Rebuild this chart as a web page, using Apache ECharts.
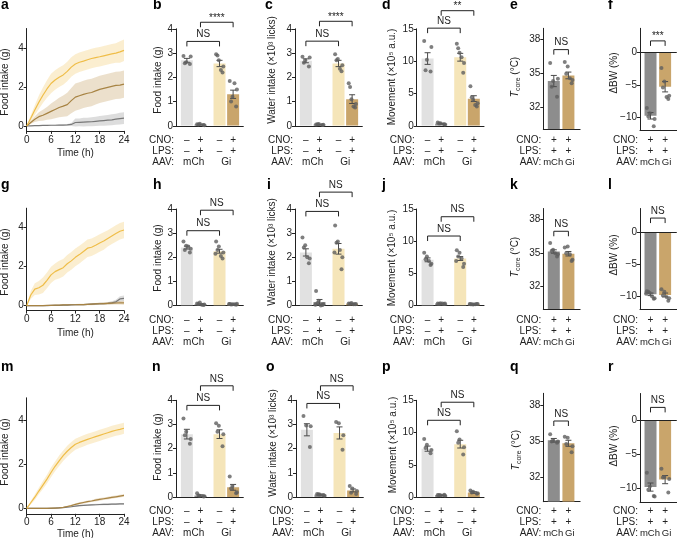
<!DOCTYPE html>
<html>
<head>
<meta charset="utf-8">
<script src="https://cdn.jsdelivr.net/npm/echarts@6/dist/echarts.min.js"></script>
<style>
  html, body { margin: 0; padding: 0; background: #fff; }
  #chart { width: 677px; height: 538px; }
</style>
</head>
<body>
<div id="chart"></div>
<script>
// ---------- data ----------
const hours = [0,1,2,3,4,5,6,7,8,9,10,11,12,13,14,15,16,17,18,19,20,21,22,23,24];
const timeTicks = [0, 6, 12, 18, 24];

// a: cumulative food intake (g), mean and s.e.m. per hour
const aYellow = [0,0.4,0.82,1.22,1.58,1.9,2.18,2.36,2.5,2.62,2.8,3.02,3.18,3.27,3.33,3.4,3.46,3.51,3.55,3.6,3.65,3.7,3.74,3.8,3.88];
const aYellowSem = [0,0.15,0.25,0.35,0.4,0.45,0.5,0.5,0.5,0.5,0.5,0.5,0.5,0.5,0.5,0.5,0.5,0.5,0.5,0.5,0.5,0.5,0.5,0.55,0.55];
const aBrown = [0,0.18,0.35,0.48,0.55,0.65,0.75,0.85,0.95,1.02,1.1,1.3,1.48,1.55,1.62,1.68,1.72,1.8,1.88,1.93,1.98,2.03,2.08,2.1,2.15];
const aBrownSem = [0,0.08,0.15,0.22,0.28,0.33,0.4,0.45,0.5,0.55,0.6,0.65,0.7,0.7,0.7,0.7,0.7,0.7,0.7,0.7,0.7,0.7,0.7,0.7,0.7];
const aGrey = [0,0.01,0.02,0.02,0.03,0.03,0.04,0.04,0.05,0.05,0.06,0.08,0.18,0.19,0.2,0.21,0.22,0.24,0.26,0.28,0.3,0.32,0.35,0.38,0.4];
const aGreySem = [0,0.01,0.01,0.02,0.02,0.02,0.03,0.03,0.03,0.04,0.04,0.08,0.2,0.2,0.22,0.22,0.23,0.24,0.25,0.26,0.27,0.28,0.28,0.3,0.3];

// g
const gYellow = [0,0.55,0.85,0.92,1.05,1.3,1.58,1.75,1.85,1.95,2.15,2.3,2.48,2.62,2.78,2.95,3.0,3.1,3.22,3.32,3.45,3.58,3.7,3.82,3.88];
const gYellowSem = [0,0.2,0.3,0.35,0.4,0.4,0.42,0.42,0.45,0.45,0.45,0.45,0.45,0.45,0.45,0.45,0.45,0.45,0.45,0.45,0.42,0.42,0.42,0.42,0.42];
const gBrown = [0,0,0.01,0.01,0.01,0.02,0.02,0.03,0.03,0.04,0.04,0.05,0.05,0.06,0.06,0.07,0.08,0.09,0.1,0.11,0.12,0.13,0.14,0.15,0.15];
const gBrownSem = [0,0,0.01,0.01,0.01,0.01,0.02,0.02,0.02,0.03,0.03,0.03,0.04,0.04,0.04,0.05,0.05,0.05,0.06,0.06,0.07,0.07,0.08,0.09,0.1];
const gGrey = [0,0,0,0.01,0.01,0.01,0.02,0.02,0.02,0.03,0.03,0.04,0.05,0.06,0.06,0.07,0.08,0.09,0.1,0.11,0.12,0.15,0.2,0.35,0.38];
const gGreySem = [0,0,0,0.01,0.01,0.01,0.01,0.01,0.01,0.02,0.02,0.02,0.02,0.03,0.03,0.03,0.04,0.04,0.05,0.05,0.06,0.08,0.1,0.14,0.15];

// m
const mYellow = [0,0.25,0.5,0.78,1.05,1.32,1.62,1.9,2.15,2.38,2.58,2.75,2.9,2.98,3.05,3.12,3.18,3.24,3.3,3.36,3.42,3.48,3.53,3.57,3.62];
const mYellowSem = [0,0.08,0.12,0.15,0.18,0.2,0.22,0.22,0.24,0.24,0.25,0.25,0.25,0.25,0.25,0.25,0.25,0.25,0.25,0.25,0.25,0.25,0.25,0.25,0.25];
const mBrown = [0,0,0,0,0,0,0.01,0.01,0.02,0.04,0.08,0.12,0.18,0.22,0.26,0.3,0.33,0.37,0.4,0.43,0.46,0.49,0.52,0.55,0.58];
const mBrownSem = [0,0,0,0,0,0,0,0.01,0.01,0.02,0.03,0.04,0.04,0.05,0.05,0.05,0.05,0.06,0.06,0.06,0.06,0.06,0.06,0.06,0.06];
const mGrey = [0,0,0,0,0,0,0,0.01,0.02,0.03,0.05,0.07,0.1,0.12,0.13,0.14,0.15,0.16,0.17,0.18,0.18,0.19,0.19,0.2,0.2];
const mGreySem = [0,0,0,0,0,0,0,0,0.01,0.01,0.02,0.02,0.03,0.03,0.03,0.03,0.04,0.04,0.04,0.04,0.04,0.04,0.04,0.04,0.04];

// condition labels
const cno4 = ['–', '+', '–', '+'];
const lps4 = ['–', '+', '–', '+'];
const cno2 = ['+', '+'];
const lps2 = ['+', '+'];
const aav = ['mCh', 'Gi'];

// bar panels: mean, s.e.m., individual animals, brackets [fromBar, toBar, height, label]
const bMean = [2.7, 0.05, 2.57, 1.3];
const bSem = [0.08, 0.02, 0.13, 0.17];
const bDots = [[2.88, 2.55, 2.62, 2.86, 2.58], [0.06, 0.03, 0.08, 0.02, 0.05], [2.95, 2.2, 2.7, 2.45, 2.9, 2.3], [1.85, 0.8, 1.2, 1.5, 1.0, 1.75]];
const bSig = [[0, 2, 3.48, 'NS'], [1, 3, 4.27, '****']];

const cMean = [2.68, 0.05, 2.57, 1.1];
const cSem = [0.08, 0.02, 0.13, 0.18];
const cDots = [[2.85, 2.45, 2.7, 2.82, 2.6], [0.05, 0.03, 0.07, 0.04, 0.06], [2.95, 2.25, 2.75, 2.5, 2.7, 2.35], [1.75, 0.75, 1.1, 0.9, 1.6, 0.8]];
const cSig = [[0, 2, 3.49, 'NS'], [1, 3, 4.31, '****']];

const dMean = [10.4, 0.35, 10.6, 4.2];
const dSem = [0.9, 0.06, 0.6, 0.45];
const dDots = [[13.1, 8.4, 10.2, 12.2, 8.6], [0.5, 0.25, 0.4, 0.2, 0.35], [12.7, 8.2, 11.3, 9.7, 12.0, 10.6], [6.1, 3.0, 4.0, 3.5, 4.4, 3.2]];
const dSig = [[0, 2, 15.1, 'NS'], [1, 3, 17.8, '**']];

const eMean = [34.3, 34.8];
const eSem = [0.5, 0.3];
const eDots = [[35.9, 32.9, 34.3, 34.5, 33.8], [36.0, 34.1, 35.6, 34.4, 34.95, 34.55]];
const eSig = [[0, 1, 37.1, 'NS']];

const fMean = [-9.8, -5.3];
const fSem = [0.5, 0.8];
const fDots = [[-8.6, -11.4, -9.4, -10.3, -9.9], [-2.4, -7.2, -4.5, -6.7, -5.4, -6.9]];
const fSig = [[0, 1, 1.8, '***']];

const hMean = [2.4, 0.05, 2.25, 0.05];
const hSem = [0.06, 0.02, 0.08, 0.01];
const hDots = [[2.65, 2.2, 2.48, 2.35, 2.3, 2.45], [0.08, 0.02, 0.12, 0.04, 0.06, 0.03], [2.65, 1.95, 2.45, 2.2, 2.3, 2.05, 2.15], [0.06, 0.03, 0.05, 0.07, 0.04, 0.05, 0.06]];
const hSig = [[0, 2, 3.1, 'NS'], [1, 3, 3.95, 'NS']];

const iMean = [2.2, 0.15, 2.35, 0.07];
const iSem = [0.15, 0.1, 0.22, 0.02];
const iDots = [[2.82, 1.75, 2.5, 1.95, 2.4, 2.0], [0.6, 0.02, 0.2, 0.05, 0.1, 0.0, 0.03], [3.32, 1.5, 2.65, 2.0, 2.6, 2.3, 2.2], [0.08, 0.05, 0.1, 0.06, 0.07, 0.05]];
const iSig = [[0, 2, 3.9, 'NS'], [1, 3, 4.7, 'NS']];

const jMean = [7.1, 0.3, 7.3, 0.2];
const jSem = [0.3, 0.03, 0.3, 0.03];
const jDots = [[8.2, 6.3, 7.6, 6.5, 7.2, 6.9], [0.3, 0.25, 0.35, 0.3, 0.28, 0.32], [8.6, 6.0, 8.2, 6.5, 7.6, 7.3, 6.9], [0.2, 0.25, 0.15, 0.22, 0.18, 0.2, 0.24]];
const jSig = [[0, 2, 10.8, 'NS'], [1, 3, 13.8, 'NS']];

const kMean = [35.15, 34.95];
const kSem = [0.15, 0.2];
const kDots = [[35.9, 34.7, 35.3, 34.9, 35.2, 35.0], [35.5, 34.3, 35.6, 34.4, 35.0, 34.9]];
const kSig = [[0, 1, 36.96, 'NS']];

const lMean = [-9.7, -9.8];
const lSem = [0.2, 0.3];
const lDots = [[-9.2, -10.4, -9.5, -10.3, -9.3, -10.0, -9.6], [-8.9, -10.7, -9.3, -10.3, -9.9, -10.1]];
const lSig = [[0, 1, 2.25, 'NS']];

const nMean = [2.6, 0.06, 2.6, 0.4];
const nSem = [0.2, 0.03, 0.18, 0.12];
const nDots = [[3.25, 2.2, 2.7, 2.4, 2.55], [0.15, 0.02, 0.05, 0.03, 0.06], [3.05, 2.1, 2.95, 2.6, 2.7], [0.85, 0.15, 0.45, 0.2, 0.35]];
const nSig = [[0, 2, 3.79, 'NS'], [1, 3, 4.6, 'NS']];

const oMean = [2.78, 0.1, 2.65, 0.27];
const oSem = [0.25, 0.02, 0.25, 0.06];
const oDots = [[3.35, 2.07, 2.96, 2.93], [0.12, 0.08, 0.1, 0.05, 0.11], [3.1, 1.95, 3.05, 2.55], [0.45, 0.12, 0.35, 0.25, 0.18]];
const oSig = [[0, 2, 3.87, 'NS'], [1, 3, 4.6, 'NS']];

const pMean = [7.5, 0.3, 8.2, 0.7];
const pSem = [0.4, 0.03, 0.6, 0.12];
const pDots = [[9.0, 6.8, 8.1, 7.3, 7.6], [0.3, 0.35, 0.28, 0.25, 0.32], [10.2, 6.6, 8.9, 7.7, 8.4], [1.0, 0.5, 0.8, 0.6, 0.7]];
const pSig = [[0, 2, 11.9, 'NS'], [1, 3, 14.7, 'NS']];

const qMean = [35.1, 34.85];
const qSem = [0.15, 0.25];
const qDots = [[35.6, 34.9, 35.1, 35.0, 35.0], [35.4, 34.1, 35.3, 34.6, 34.8]];
const qSig = [[0, 1, 36.7, 'NS']];

const rMean = [-9.8, -8.7];
const rSem = [0.6, 0.6];
const rDots = [[-7.7, -11.1, -9.7, -11.2, -10.2], [-7.1, -10.6, -8.3, -8.6, -8.4]];
const rSig = [[0, 1, 1.95, 'NS']];

// ---------- styling / layout ----------
const FONT = '"Liberation Sans", Arial, Helvetica, sans-serif';
const INK = '#222222';
const BAR_COLORS = ['#e1e1e1', '#8d8d8d', '#f5e5b9', '#c9a56b'];
const BAR2_COLORS = ['#8d8d8d', '#c9a56b'];
const DOT = '#5f5f5f';
const ERR = '#4a4a4a';
const LINE_YELLOW = '#efbd48', LINE_BROWN = '#a78343', LINE_GREY = '#787878';
const BAND_YELLOW = 'rgba(242,200,100,0.30)', BAND_BROWN = 'rgba(196,160,96,0.32)', BAND_GREY = 'rgba(150,150,150,0.32)';
const POS4 = [0, 1, 2.4, 3.4], POS2 = [0, 1];
const U4 = 13.6, U2 = 14.6;
const BAR_W = 12;
const JIT = [-0.25, 0.22, -0.05, 0.28, -0.15, 0.1, -0.3];
const ROWS = [[140, 151, 162], [320, 331, 342], [511.5, 522.5, 533.5]];
const TCORE = '{t|T}{s|core} (°C)';

const option = {
  animation: false,
  backgroundColor: '#ffffff',
  textStyle: { fontFamily: FONT },
  grid: [], xAxis: [], yAxis: [], series: [],
  graphic: { elements: [] }
};

function txt(x, y, text, extra) {
  option.graphic.elements.push(Object.assign({
    type: 'text', x: x, y: y, silent: true,
    style: Object.assign({ text: text, fill: INK, fontSize: 10, fontFamily: FONT, align: 'left', verticalAlign: 'middle' }, (extra && extra.style) || {})
  }, extra && extra.rotation ? { rotation: extra.rotation } : {}));
}

function yName(x, y, text) {
  txt(x, y, text, {
    rotation: Math.PI / 2,
    style: {
      align: 'center',
      rich: {
        t: { fontStyle: 'italic', fontSize: 10, fontFamily: FONT, fill: INK },
        s: { fontSize: 7, fontFamily: FONT, fill: INK, padding: [6, 0, 0, 0] }
      }
    }
  });
}

function yAxis(gi, min, max, ticks) {
  option.yAxis.push({
    gridIndex: gi, type: 'value', min: min, max: max,
    axisLine: { show: true, onZero: false, lineStyle: { color: INK, width: 1 } },
    axisTick: { show: true, length: 3, customValues: ticks, lineStyle: { color: INK } },
    axisLabel: { customValues: ticks, margin: 3, fontSize: 10, color: INK, fontFamily: FONT,
      formatter: v => String(v).replace('-', '−') },
    splitLine: { show: false }
  });
  return option.yAxis.length - 1;
}

function linePanel(p) {
  const gi = option.grid.length;
  option.grid.push({ left: p.left, top: p.top, width: p.right - p.left, height: p.bottom - p.top, outerBoundsMode: 'none', containLabel: false });
  const xi = option.xAxis.length;
  option.xAxis.push({
    gridIndex: gi, type: 'value', min: 0, max: 24,
    axisLine: { onZero: false, lineStyle: { color: INK, width: 1 } },
    axisTick: { length: 3, customValues: timeTicks, lineStyle: { color: INK } },
    axisLabel: { customValues: timeTicks, margin: p.labelMargin, fontSize: 10, color: INK, fontFamily: FONT },
    splitLine: { show: false },
    name: 'Time (h)', nameLocation: 'middle', nameGap: p.nameGap,
    nameTextStyle: { fontSize: 10, color: INK, fontFamily: FONT }
  });
  const yi = yAxis(gi, -0.25, 5, [0, 2, 4]);
  // s.e.m. bands as one polygon per group
  p.groups.forEach(function (g) {
    const mean = g[0], sem = g[1];
    option.series.push({
      type: 'custom', xAxisIndex: xi, yAxisIndex: yi, silent: true, clip: true, z: 1,
      data: hours.map((h, i) => [h, mean[i] - sem[i], mean[i] + sem[i]]),
      renderItem: function (params, api) {
        if (params.dataIndex !== 0) return null;
        const up = hours.map((h, i) => api.coord([h, mean[i] + sem[i]]));
        const lo = hours.map((h, i) => api.coord([h, mean[i] - sem[i]])).reverse();
        return { type: 'polygon', shape: { points: up.concat(lo) }, style: { fill: g[3] } };
      }
    });
  });
  p.groups.forEach(function (g) {
    option.series.push({
      type: 'line', xAxisIndex: xi, yAxisIndex: yi, symbol: 'none', silent: true, z: 3,
      lineStyle: { color: g[2], width: 1.2 },
      data: hours.map((h, i) => [h, g[0][i]])
    });
  });
  yName(p.nameAt[0], p.nameAt[1], 'Food intake (g)');
}

function barPanel(p) {
  const four = p.mean.length === 4;
  const pos = four ? POS4 : POS2;
  const unit = four ? U4 : U2;
  const xmin = four ? -0.8 : -0.72;
  const xmax = four ? 4.15 : 1.8;
  const colors = four ? BAR_COLORS : BAR2_COLORS;
  const cno = four ? cno4 : cno2;
  const lps = four ? lps4 : lps2;
  const aavPos = four ? [0.5, 2.9] : [-0.04, 1.1];
  const rows = ROWS[p.row];
  const gi = option.grid.length;
  option.grid.push({ left: p.axisX, top: p.top, width: (xmax - xmin) * unit, height: p.bottom - p.top, outerBoundsMode: 'none', containLabel: false });

  const xi = option.xAxis.length;
  option.xAxis.push({
    gridIndex: gi, type: 'value', min: xmin, max: xmax, position: 'bottom',
    axisLine: { show: true, onZero: false, lineStyle: { color: INK, width: 1 } },
    axisTick: { show: false }, splitLine: { show: false },
    axisLabel: { customValues: pos, hideOverlap: false, margin: rows[0] - p.bottom - 5.5, fontSize: 10, lineHeight: 11, color: INK, fontFamily: FONT,
      formatter: v => { const i = pos.indexOf(v); return cno[i] + '\n' + lps[i]; } }
  });
  const yi = yAxis(gi, p.ymin, p.ymax, p.ticks);

  // bars
  option.series.push({
    type: 'custom', xAxisIndex: xi, yAxisIndex: yi, silent: true, clip: true, z: 2,
    data: p.mean.map((m, i) => [pos[i], m]),
    renderItem: function (params, api) {
      const cs = params.coordSys;
      const x = api.value(0), v = api.value(1);
      const base = api.coord([x, 0])[1];
      const y0 = Math.max(cs.y, Math.min(cs.y + cs.height, base));
      const top = api.coord([x, v]);
      return { type: 'rect',
        shape: { x: top[0] - BAR_W / 2, y: Math.min(y0, top[1]), width: BAR_W, height: Math.abs(top[1] - y0) },
        style: { fill: colors[params.dataIndex] } };
    },
    markLine: p.ymin < 0 ? { silent: true, symbol: 'none', label: { show: false },
      lineStyle: { color: INK, width: 1, type: 'solid' }, data: [{ yAxis: 0 }] } : undefined
  });
  // error bars
  option.series.push({
    type: 'custom', xAxisIndex: xi, yAxisIndex: yi, silent: true, z: 4,
    data: p.mean.map((m, i) => [pos[i], m, p.sem[i]]),
    renderItem: function (params, api) {
      const x = api.value(0), m = api.value(1), s = api.value(2);
      const lo = api.coord([x, m - s]), hi = api.coord([x, m + s]);
      const st = { stroke: ERR, lineWidth: 1 };
      return { type: 'group', children: [
        { type: 'line', shape: { x1: lo[0], y1: lo[1], x2: hi[0], y2: hi[1] }, style: st },
        { type: 'line', shape: { x1: hi[0] - 3, y1: hi[1], x2: hi[0] + 3, y2: hi[1] }, style: st },
        { type: 'line', shape: { x1: lo[0] - 3, y1: lo[1], x2: lo[0] + 3, y2: lo[1] }, style: st }
      ] };
    }
  });
  // individual animals
  const pts = [];
  p.dots.forEach((arr, i) => arr.forEach((v, j) => pts.push([pos[i] + JIT[j % JIT.length], v])));
  option.series.push({
    type: 'scatter', xAxisIndex: xi, yAxisIndex: yi, silent: true, z: 5,
    symbolSize: 4, itemStyle: { color: DOT }, data: pts
  });
  // significance brackets
  option.series.push({
    type: 'custom', xAxisIndex: xi, yAxisIndex: yi, silent: true, clip: false, z: 6,
    data: p.sig.map(b => [pos[b[0]], pos[b[1]], b[2]]),
    renderItem: function (params, api) {
      const label = p.sig[params.dataIndex][3];
      const a = api.coord([api.value(0), api.value(2)]);
      const b = api.coord([api.value(1), api.value(2)]);
      const star = label !== 'NS';
      return { type: 'group', children: [
        { type: 'polyline', shape: { points: [[a[0], a[1] + 5], [a[0], a[1]], [b[0], b[1]], [b[0], b[1] + 5]] },
          style: { stroke: INK, lineWidth: 1, fill: null } },
        { type: 'text', style: { text: label, x: (a[0] + b[0]) / 2, y: a[1] - (star ? 4.5 : 7),
          align: 'center', verticalAlign: 'middle', fontSize: 10, fontFamily: FONT, fill: INK } }
      ] };
    }
  });

  // row headings and virus labels
  ['CNO:', 'LPS:', 'AAV:'].forEach((t, k) => txt(p.axisX - 2, rows[k], t, { style: { align: 'right' } }));
  aavPos.forEach((v, k) => txt(p.axisX + (v - xmin) * unit, rows[2], aav[k],
    { style: { align: 'center', fontSize: four ? 10 : 9.5 } }));
  yName(p.nameAt[0], p.nameAt[1], p.name);
}

// ---------- panels ----------
linePanel({ left: 26.7, right: 124, top: 28.5, bottom: 130.9, labelMargin: 4, nameGap: 17, nameAt: [5, 82],
  groups: [[aGrey, aGreySem, LINE_GREY, BAND_GREY], [aBrown, aBrownSem, LINE_BROWN, BAND_BROWN], [aYellow, aYellowSem, LINE_YELLOW, BAND_YELLOW]] });
linePanel({ left: 26.7, right: 124, top: 208.2, bottom: 310.6, labelMargin: 4, nameGap: 17.5, nameAt: [5, 262],
  groups: [[gGrey, gGreySem, LINE_GREY, BAND_GREY], [gBrown, gBrownSem, LINE_BROWN, BAND_BROWN], [gYellow, gYellowSem, LINE_YELLOW, BAND_YELLOW]] });
linePanel({ left: 26.7, right: 124, top: 397.8, bottom: 513.8, labelMargin: 3, nameGap: 15, nameAt: [5, 452],
  groups: [[mGrey, mGreySem, LINE_GREY, BAND_GREY], [mBrown, mBrownSem, LINE_BROWN, BAND_BROWN], [mYellow, mYellowSem, LINE_YELLOW, BAND_YELLOW]] });

const fiName = 'Food intake (g)';
const wiName = 'Water intake (×10³ licks)';
const mvName = 'Movement (×10⁵ a.u.)';
const bwName = 'ΔBW (%)';

barPanel({ row: 0, axisX: 176, top: 28.8, bottom: 125.8, ymin: 0, ymax: 4, ticks: [0, 1, 2, 3, 4], mean: bMean, sem: bSem, dots: bDots, sig: bSig, name: fiName, nameAt: [158, 80] });
barPanel({ row: 0, axisX: 295, top: 28.8, bottom: 125.8, ymin: 0, ymax: 4, ticks: [0, 1, 2, 3, 4], mean: cMean, sem: cSem, dots: cDots, sig: cSig, name: wiName, nameAt: [272, 70] });
barPanel({ row: 0, axisX: 416.7, top: 28.8, bottom: 125.8, ymin: 0, ymax: 15, ticks: [0, 5, 10, 15], mean: dMean, sem: dSem, dots: dDots, sig: dSig, name: mvName, nameAt: [392, 77] });
barPanel({ row: 0, axisX: 543.3, top: 28.3, bottom: 129.3, ymin: 30, ymax: 39, ticks: [32, 35, 38], mean: eMean, sem: eSem, dots: eDots, sig: eSig, name: TCORE, nameAt: [515, 77] });
barPanel({ row: 0, axisX: 640, top: 28.3, bottom: 130, ymin: -12, ymax: 3.75, ticks: [-10, -5, 0], mean: fMean, sem: fSem, dots: fDots, sig: fSig, name: bwName, nameAt: [614, 73] });

barPanel({ row: 1, axisX: 176, top: 209, bottom: 305.5, ymin: 0, ymax: 4, ticks: [0, 1, 2, 3, 4], mean: hMean, sem: hSem, dots: hDots, sig: hSig, name: fiName, nameAt: [158, 258] });
barPanel({ row: 1, axisX: 295, top: 209, bottom: 305.5, ymin: 0, ymax: 4, ticks: [0, 1, 2, 3, 4], mean: iMean, sem: iSem, dots: iDots, sig: iSig, name: wiName, nameAt: [272, 252] });
barPanel({ row: 1, axisX: 416.7, top: 209, bottom: 305.5, ymin: 0, ymax: 15, ticks: [0, 5, 10, 15], mean: jMean, sem: jSem, dots: jDots, sig: jSig, name: mvName, nameAt: [392, 258] });
barPanel({ row: 1, axisX: 543.3, top: 208.5, bottom: 309, ymin: 30, ymax: 39, ticks: [32, 35, 38], mean: kMean, sem: kSem, dots: kDots, sig: kSig, name: TCORE, nameAt: [515, 257] });
barPanel({ row: 1, axisX: 640, top: 208.5, bottom: 309, ymin: -12, ymax: 3.75, ticks: [-10, -5, 0], mean: lMean, sem: lSem, dots: lDots, sig: lSig, name: bwName, nameAt: [614, 255] });

barPanel({ row: 2, axisX: 176, top: 400.3, bottom: 497, ymin: 0, ymax: 4, ticks: [0, 1, 2, 3, 4], mean: nMean, sem: nSem, dots: nDots, sig: nSig, name: fiName, nameAt: [158, 447] });
barPanel({ row: 2, axisX: 296, top: 400.3, bottom: 497, ymin: 0, ymax: 4, ticks: [0, 1, 2, 3, 4], mean: oMean, sem: oSem, dots: oDots, sig: oSig, name: wiName, nameAt: [273, 443] });
barPanel({ row: 2, axisX: 416.7, top: 400.3, bottom: 497, ymin: 0, ymax: 15, ticks: [0, 5, 10, 15], mean: pMean, sem: pSem, dots: pDots, sig: pSig, name: mvName, nameAt: [393, 445] });
barPanel({ row: 2, axisX: 543.3, top: 393.3, bottom: 501.7, ymin: 30, ymax: 39, ticks: [32, 35, 38], mean: qMean, sem: qSem, dots: qDots, sig: qSig, name: TCORE, nameAt: [516, 450] });
barPanel({ row: 2, axisX: 640, top: 393.5, bottom: 502, ymin: -12, ymax: 4, ticks: [-10, -5, 0], mean: rMean, sem: rSem, dots: rDots, sig: rSig, name: bwName, nameAt: [614, 446] });

// panel letters
const letters = [
  ['a', 1, 5.5], ['b', 153, 5.5], ['c', 265, 5.5], ['d', 382, 5.5], ['e', 510, 5.5], ['f', 608, 5.5],
  ['g', 1, 185.5], ['h', 153, 185.5], ['i', 267, 185.5], ['j', 382, 185.5], ['k', 510, 185.5], ['l', 608, 185.5],
  ['m', 1, 367.5], ['n', 152, 367.5], ['o', 266, 367.5], ['p', 382, 367.5], ['q', 510, 367.5], ['r', 608, 367.5]
];
letters.forEach(l => txt(l[1], l[2], l[0], { style: { fontSize: 14, fontWeight: 'bold', fill: '#000' } }));

const chart = echarts.init(document.getElementById('chart'), null, { renderer: 'canvas' });
chart.setOption(option);
</script>
</body>
</html>
